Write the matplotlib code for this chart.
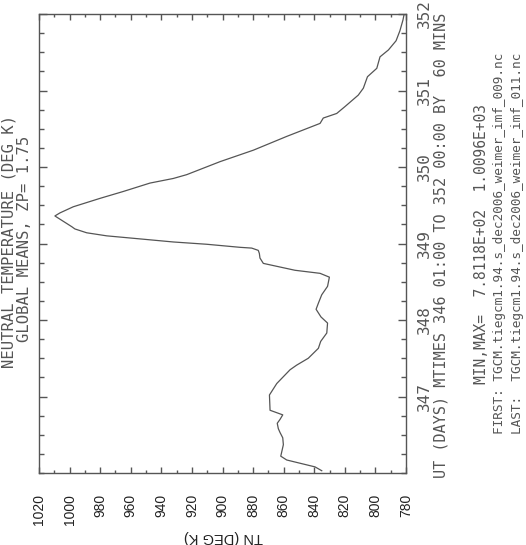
import numpy as np
import matplotlib
matplotlib.use('Agg')
import matplotlib.pyplot as plt
from matplotlib.ticker import MultipleLocator

# UT days and global mean neutral temperature (deg K)
days = [346.03, 346.08, 346.17, 346.22, 346.37, 346.46, 346.53, 346.58, 346.65,
        346.70, 346.76, 346.82, 347.02, 347.17, 347.35, 347.41, 347.50, 347.63,
        347.72, 347.83, 347.96, 348.04, 348.14, 348.22, 348.33, 348.44, 348.56,
        348.61, 348.65, 348.74, 348.81, 348.87, 348.91, 348.94, 348.95, 348.99,
        349.02, 349.06, 349.10, 349.14, 349.19, 349.22, 349.29, 349.36, 349.40,
        349.48, 349.59, 349.68, 349.79, 349.85, 349.90, 350.07, 350.22, 350.40,
        350.57, 350.64, 350.70, 350.79, 350.94, 351.03, 351.18, 351.29, 351.44,
        351.53, 351.65, 351.78, 351.92, 352.00]
tn = [835.1, 839.5, 858.0, 861.9, 860.2, 860.6, 862.4, 863.5, 864.2,
      862.4, 860.6, 868.9, 869.3, 864.5, 855.8, 851.5, 843.9, 837.3,
      835.8, 831.8, 831.3, 835.6, 838.8, 837.3, 835.1, 831.3, 830.1,
      836.2, 852.6, 873.3, 875.5, 875.9, 876.6, 880.9, 888.5, 910.3,
      932.2, 953.9, 975.7, 988.8, 996.5, 998.6, 1004.1, 1009.6, 1006.3,
      997.6, 980.1, 964.9, 947.4, 932.2, 923.4, 901.6, 879.8, 858.0,
      836.2, 834.1, 825.3, 819.9, 811.2, 807.9, 805.2, 799.1, 797.0,
      791.5, 786.5, 784.0, 782.0, 781.2]

day_ticks = [347, 348, 349, 350, 351, 352]
tn_ticks = list(range(780, 1021, 20))

title1 = 'NEUTRAL TEMPERATURE (DEG K)'
title2 = 'GLOBAL MEANS, ZP= 1.75'
xlab = 'UT (DAYS) MTIMES 346 01:00 TO 352 00:00 BY  60 MINS'
minmax = 'MIN,MAX=  7.8118E+02  1.0096E+03'
first = 'FIRST: TGCM.tiegcm1.94.s_dec2006_weimer_imf_009.nc'
last = 'LAST:  TGCM.tiegcm1.94.s_dec2006_weimer_imf_011.nc'

W, H = 526, 545
fig = plt.figure(figsize=(W / 100, H / 100), dpi=100)
x0, x1, y0, y1 = 39, 406, 14, 473
ax = fig.add_axes([x0 / W, 1 - y1 / H, (x1 - x0) / W, (y1 - y0) / H])

grey = '#555555'
ax.plot(tn, days, color=grey, lw=0.9)
ax.set_xlim(1020, 780)
ax.set_ylim(346, 352)

for s in ax.spines.values():
    s.set_color(grey)
    s.set_linewidth(1.0)

ax.xaxis.set_major_locator(MultipleLocator(20))
ax.xaxis.set_minor_locator(MultipleLocator(10))
ax.yaxis.set_major_locator(MultipleLocator(1))
ax.yaxis.set_minor_locator(MultipleLocator(0.25))
ax.tick_params(axis='both', which='both', direction='in', color=grey, width=1)
ax.tick_params(axis='x', which='major', length=4.5, top=True, bottom=True)
ax.tick_params(axis='x', which='minor', length=2.5, top=True, bottom=True)
ax.tick_params(axis='y', which='major', length=6, left=True, right=True,
               labelleft=False, labelright=True, pad=8)
ax.tick_params(axis='y', which='minor', length=3.5, left=True, right=True)
ax.tick_params(axis='x', which='major', pad=15)

ax.set_xticks(tn_ticks)
ax.set_xticklabels([str(t) for t in tn_ticks], rotation=90, va='top', ha='center',
                   family='Liberation Sans', fontsize=10, color='#222222')
ax.set_yticks(day_ticks)
ax.set_yticklabels([str(d) for d in day_ticks], rotation=90, va='center', ha='left',
                   family='DejaVu Sans Mono', fontsize=11.5, color=grey)

mono = dict(family='DejaVu Sans Mono', color=grey, rotation=90, va='center', ha='center')
yc = 1 - (y0 + y1) / 2 / H
fig.text(9 / W, yc + 0.004, title1, fontsize=11.2, **mono)
fig.text(25 / W, yc + 0.008, title2, fontsize=11.2, **mono)
fig.text(441 / W, 1 - 245 / H, xlab, fontsize=10.9, **mono)
fig.text(482 / W, yc, minmax, fontsize=10.5, **mono)
fig.text(500 / W, yc, first, fontsize=9.2, **mono)
fig.text(517 / W, yc, last, fontsize=9.2, **mono)

fig.text(223 / W, 1 - 537 / H, 'TN (DEG K)', rotation=180, va='center', ha='center',
         family='Liberation Sans', fontsize=10.5, color='#222222')

fig.savefig('out.png', dpi=100)
